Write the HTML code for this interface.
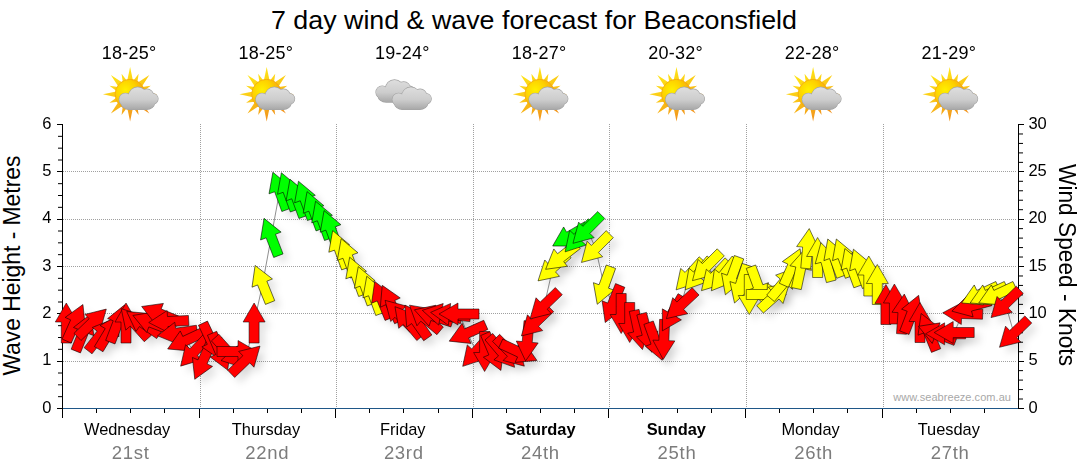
<!DOCTYPE html><html><head><meta charset="utf-8"><title>7 day wind &amp; wave forecast</title>
<style>html,body{margin:0;padding:0;background:#fff;}body{width:1080px;height:475px;overflow:hidden;font-family:"Liberation Sans",sans-serif;}svg{display:block}text{font-family:"Liberation Sans",sans-serif}</style></head><body>
<svg width="1080" height="475" viewBox="0 0 1080 475">
<defs>
<filter id="sh" x="-5%" y="-20%" width="110%" height="150%">
<feGaussianBlur stdDeviation="3.5" result="b"/>
<feOffset in="b" dx="6" dy="6"/>
</filter>
<filter id="soft" x="-10%" y="-10%" width="120%" height="120%"><feGaussianBlur stdDeviation="0.35"/></filter>
<linearGradient id="cg" gradientUnits="userSpaceOnUse" x1="0" y1="22" x2="0" y2="45"><stop offset="0" stop-color="#dedede"/><stop offset="0.55" stop-color="#cdcdcd"/><stop offset="1" stop-color="#a6a6a6"/></linearGradient>
<linearGradient id="rg" gradientUnits="userSpaceOnUse" x1="20" y1="5" x2="45" y2="55"><stop offset="0" stop-color="#ffe818"/><stop offset="0.45" stop-color="#fbc814"/><stop offset="1" stop-color="#f08c1e"/></linearGradient>
<radialGradient id="sg" gradientUnits="userSpaceOnUse" cx="30" cy="25" r="19"><stop offset="0" stop-color="#fff000"/><stop offset="0.55" stop-color="#fdd000"/><stop offset="1" stop-color="#f7a610"/></radialGradient>
<path id="ar" d="M0,-20 L11,-1 L5,-1 L5,20 L-5,20 L-5,-1 L-11,-1 Z"/>
<g id="cl"><g stroke="#a2a2a2" stroke-width="1.2" fill="#a2a2a2"><circle cx="30" cy="34.5" r="6.2"/><circle cx="42.3" cy="31.2" r="9"/><circle cx="51.5" cy="30.8" r="6.6"/><circle cx="57.3" cy="33.8" r="5.3"/><rect x="26" y="32" width="33" height="12.4" rx="8"/></g><g fill="url(#cg)"><circle cx="30" cy="34.5" r="6.2"/><circle cx="42.3" cy="31.2" r="9"/><circle cx="51.5" cy="30.8" r="6.6"/><circle cx="57.3" cy="33.8" r="5.3"/><rect x="26" y="32" width="33" height="12.4" rx="8"/></g></g>
<g id="sc" filter="url(#soft)"><path d="M37.80,16.80 L34.70,2.10 L31.60,16.80 Z M41.79,18.71 L43.23,8.70 L37.17,16.79 Z M45.73,22.65 L53.93,10.07 L41.35,18.27 Z M47.21,26.83 L55.30,20.77 L45.29,22.21 Z M47.20,32.40 L61.90,29.30 L47.20,26.20 Z M45.29,36.39 L55.30,37.83 L47.21,31.77 Z M41.35,40.33 L53.93,48.53 L45.73,35.95 Z M37.17,41.81 L43.23,49.90 L41.79,39.89 Z M31.60,41.80 L34.70,56.50 L37.80,41.80 Z M27.61,39.89 L26.17,49.90 L32.23,41.81 Z M23.67,35.95 L15.47,48.53 L28.05,40.33 Z M22.19,31.77 L14.10,37.83 L24.11,36.39 Z M22.20,26.20 L7.50,29.30 L22.20,32.40 Z M24.11,22.21 L14.10,20.77 L22.19,26.83 Z M28.05,18.27 L15.47,10.07 L23.67,22.65 Z M32.23,16.79 L26.17,8.70 L27.61,18.71 Z" fill="url(#rg)"/><circle cx="34.7" cy="29.3" r="15" fill="url(#sg)" stroke="#f2a416" stroke-width="0.7"/><use href="#cl"/></g>
<g id="cc" filter="url(#soft)"><use href="#cl" x="-16.4" y="-7.3"/><use href="#cl"/></g>
</defs>

<rect width="1080" height="475" fill="#fff"/>
<g stroke="#a0a0a0" stroke-width="1" stroke-dasharray="1 1" shape-rendering="crispEdges"><line x1="200.5" y1="124" x2="200.5" y2="408"/><line x1="336.5" y1="124" x2="336.5" y2="408"/><line x1="473.5" y1="124" x2="473.5" y2="408"/><line x1="609.5" y1="124" x2="609.5" y2="408"/><line x1="746.5" y1="124" x2="746.5" y2="408"/><line x1="883.5" y1="124" x2="883.5" y2="408"/><line x1="63" y1="361.5" x2="1017" y2="361.5"/><line x1="63" y1="313.5" x2="1017" y2="313.5"/><line x1="63" y1="266.5" x2="1017" y2="266.5"/><line x1="63" y1="219.5" x2="1017" y2="219.5"/><line x1="63" y1="171.5" x2="1017" y2="171.5"/></g>
<text x="1011" y="401" font-size="11" fill="#a8a8a8" text-anchor="end" letter-spacing="0.05">www.seabreeze.com.au</text>
<polyline points="66.3,323.0 74.8,322.8 83.3,332.5 91.9,323.0 100.4,335.0 109.0,332.0 117.5,323.5 126.0,323.0 134.6,323.5 143.1,323.0 151.6,322.6 160.2,314.0 168.7,321.5 177.3,333.0 185.8,340.5 194.3,351.5 202.9,361.0 211.4,341.3 219.9,351.7 228.5,352.4 237.0,351.5 245.6,360.0 254.1,323.0 262.6,284.0 271.2,237.0 279.7,191.0 288.2,191.5 296.8,198.0 305.3,200.0 313.9,210.4 322.4,220.0 330.9,229.4 339.5,249.4 348.0,257.5 356.5,276.0 365.1,285.4 373.6,295.0 382.2,300.0 390.7,303.5 399.2,314.5 407.8,322.0 416.3,321.5 424.8,318.0 433.4,316.0 441.9,314.5 450.5,314.5 459.0,314.0 467.5,333.0 476.1,351.5 484.6,351.5 493.1,352.0 501.7,352.0 510.2,352.0 518.8,352.0 527.3,341.0 535.8,322.0 544.4,305.0 552.9,267.5 561.4,257.0 570.0,236.0 578.5,237.0 587.1,229.2 595.6,248.3 604.1,285.5 612.7,304.0 621.2,313.5 629.7,322.5 638.3,330.0 646.8,333.0 655.4,341.5 663.9,339.5 672.4,313.5 681.0,305.0 689.5,275.0 698.0,274.5 706.6,266.5 715.1,276.0 723.7,275.0 732.2,276.0 740.7,284.0 749.3,294.5 757.8,285.5 766.3,294.5 774.9,296.0 783.4,283.0 792.0,267.0 800.5,269.0 807.5,248.5 817.6,257.5 826.1,262.0 834.6,257.8 843.2,257.8 851.7,267.3 860.3,268.0 868.8,276.0 877.3,284.5 885.9,304.5 894.4,304.0 902.9,314.0 911.5,314.0 920.0,322.5 928.6,332.0 937.1,333.5 945.6,333.8 954.2,332.5 962.7,313.5 971.2,306.0 979.8,294.5 988.3,294.5 996.9,294.5 1005.4,303.7 1013.9,333.4" fill="none" stroke="#909090" stroke-width="1"/>
<g><rect x="62" y="124" width="1" height="294" fill="#000"/><rect x="1018" y="124" width="1" height="285" fill="#000"/><rect x="63" y="408" width="955" height="1" fill="#1f5788"/><rect x="57" y="408" width="5" height="1" fill="#000"/><line x1="58" y1="396.67" x2="62" y2="396.67" stroke="#000" stroke-width="1"/><line x1="58" y1="384.83" x2="62" y2="384.83" stroke="#000" stroke-width="1"/><line x1="58" y1="373.00" x2="62" y2="373.00" stroke="#000" stroke-width="1"/><rect x="57" y="361" width="5" height="1" fill="#000"/><line x1="58" y1="349.33" x2="62" y2="349.33" stroke="#000" stroke-width="1"/><line x1="58" y1="337.50" x2="62" y2="337.50" stroke="#000" stroke-width="1"/><line x1="58" y1="325.67" x2="62" y2="325.67" stroke="#000" stroke-width="1"/><rect x="57" y="313" width="5" height="1" fill="#000"/><line x1="58" y1="302.00" x2="62" y2="302.00" stroke="#000" stroke-width="1"/><line x1="58" y1="290.17" x2="62" y2="290.17" stroke="#000" stroke-width="1"/><line x1="58" y1="278.33" x2="62" y2="278.33" stroke="#000" stroke-width="1"/><rect x="57" y="266" width="5" height="1" fill="#000"/><line x1="58" y1="254.67" x2="62" y2="254.67" stroke="#000" stroke-width="1"/><line x1="58" y1="242.83" x2="62" y2="242.83" stroke="#000" stroke-width="1"/><line x1="58" y1="231.00" x2="62" y2="231.00" stroke="#000" stroke-width="1"/><rect x="57" y="219" width="5" height="1" fill="#000"/><line x1="58" y1="207.33" x2="62" y2="207.33" stroke="#000" stroke-width="1"/><line x1="58" y1="195.50" x2="62" y2="195.50" stroke="#000" stroke-width="1"/><line x1="58" y1="183.67" x2="62" y2="183.67" stroke="#000" stroke-width="1"/><rect x="57" y="171" width="5" height="1" fill="#000"/><line x1="58" y1="160.00" x2="62" y2="160.00" stroke="#000" stroke-width="1"/><line x1="58" y1="148.17" x2="62" y2="148.17" stroke="#000" stroke-width="1"/><line x1="58" y1="136.33" x2="62" y2="136.33" stroke="#000" stroke-width="1"/><rect x="57" y="124" width="5" height="1" fill="#000"/><rect x="1019" y="408" width="5" height="1" fill="#000"/><line x1="1019" y1="399.03" x2="1023" y2="399.03" stroke="#000" stroke-width="1"/><line x1="1019" y1="389.57" x2="1023" y2="389.57" stroke="#000" stroke-width="1"/><line x1="1019" y1="380.10" x2="1023" y2="380.10" stroke="#000" stroke-width="1"/><line x1="1019" y1="370.63" x2="1023" y2="370.63" stroke="#000" stroke-width="1"/><rect x="1019" y="361" width="5" height="1" fill="#000"/><line x1="1019" y1="351.70" x2="1023" y2="351.70" stroke="#000" stroke-width="1"/><line x1="1019" y1="342.23" x2="1023" y2="342.23" stroke="#000" stroke-width="1"/><line x1="1019" y1="332.77" x2="1023" y2="332.77" stroke="#000" stroke-width="1"/><line x1="1019" y1="323.30" x2="1023" y2="323.30" stroke="#000" stroke-width="1"/><rect x="1019" y="313" width="5" height="1" fill="#000"/><line x1="1019" y1="304.37" x2="1023" y2="304.37" stroke="#000" stroke-width="1"/><line x1="1019" y1="294.90" x2="1023" y2="294.90" stroke="#000" stroke-width="1"/><line x1="1019" y1="285.43" x2="1023" y2="285.43" stroke="#000" stroke-width="1"/><line x1="1019" y1="275.97" x2="1023" y2="275.97" stroke="#000" stroke-width="1"/><rect x="1019" y="266" width="5" height="1" fill="#000"/><line x1="1019" y1="257.03" x2="1023" y2="257.03" stroke="#000" stroke-width="1"/><line x1="1019" y1="247.57" x2="1023" y2="247.57" stroke="#000" stroke-width="1"/><line x1="1019" y1="238.10" x2="1023" y2="238.10" stroke="#000" stroke-width="1"/><line x1="1019" y1="228.63" x2="1023" y2="228.63" stroke="#000" stroke-width="1"/><rect x="1019" y="219" width="5" height="1" fill="#000"/><line x1="1019" y1="209.70" x2="1023" y2="209.70" stroke="#000" stroke-width="1"/><line x1="1019" y1="200.23" x2="1023" y2="200.23" stroke="#000" stroke-width="1"/><line x1="1019" y1="190.77" x2="1023" y2="190.77" stroke="#000" stroke-width="1"/><line x1="1019" y1="181.30" x2="1023" y2="181.30" stroke="#000" stroke-width="1"/><rect x="1019" y="171" width="5" height="1" fill="#000"/><line x1="1019" y1="162.37" x2="1023" y2="162.37" stroke="#000" stroke-width="1"/><line x1="1019" y1="152.90" x2="1023" y2="152.90" stroke="#000" stroke-width="1"/><line x1="1019" y1="143.43" x2="1023" y2="143.43" stroke="#000" stroke-width="1"/><line x1="1019" y1="133.97" x2="1023" y2="133.97" stroke="#000" stroke-width="1"/><rect x="1019" y="124" width="5" height="1" fill="#000"/><rect x="96" y="409" width="1" height="4" fill="#000"/><rect x="130" y="409" width="1" height="4" fill="#000"/><rect x="164" y="409" width="1" height="4" fill="#000"/><rect x="199" y="409" width="1" height="9" fill="#000"/><rect x="233" y="409" width="1" height="4" fill="#000"/><rect x="267" y="409" width="1" height="4" fill="#000"/><rect x="301" y="409" width="1" height="4" fill="#000"/><rect x="335" y="409" width="1" height="9" fill="#000"/><rect x="369" y="409" width="1" height="4" fill="#000"/><rect x="403" y="409" width="1" height="4" fill="#000"/><rect x="438" y="409" width="1" height="4" fill="#000"/><rect x="472" y="409" width="1" height="9" fill="#000"/><rect x="506" y="409" width="1" height="4" fill="#000"/><rect x="540" y="409" width="1" height="4" fill="#000"/><rect x="574" y="409" width="1" height="4" fill="#000"/><rect x="608" y="409" width="1" height="9" fill="#000"/><rect x="642" y="409" width="1" height="4" fill="#000"/><rect x="677" y="409" width="1" height="4" fill="#000"/><rect x="711" y="409" width="1" height="4" fill="#000"/><rect x="745" y="409" width="1" height="9" fill="#000"/><rect x="779" y="409" width="1" height="4" fill="#000"/><rect x="813" y="409" width="1" height="4" fill="#000"/><rect x="847" y="409" width="1" height="4" fill="#000"/><rect x="882" y="409" width="1" height="9" fill="#000"/><rect x="916" y="409" width="1" height="4" fill="#000"/><rect x="950" y="409" width="1" height="4" fill="#000"/><rect x="984" y="409" width="1" height="4" fill="#000"/></g>
<g filter="url(#sh)" fill="#000" fill-opacity="0.1"><use href="#ar" transform="translate(66.3 323.0) rotate(0)"/><use href="#ar" transform="translate(74.8 322.8) rotate(24)"/><use href="#ar" transform="translate(83.3 332.5) rotate(22)"/><use href="#ar" transform="translate(91.9 323.0) rotate(46)"/><use href="#ar" transform="translate(100.4 335.0) rotate(38)"/><use href="#ar" transform="translate(109.0 332.0) rotate(31)"/><use href="#ar" transform="translate(117.5 323.5) rotate(21)"/><use href="#ar" transform="translate(126.0 323.0) rotate(0)"/><use href="#ar" transform="translate(134.6 323.5) rotate(-42)"/><use href="#ar" transform="translate(143.1 323.0) rotate(-55)"/><use href="#ar" transform="translate(151.6 322.6) rotate(-69)"/><use href="#ar" transform="translate(160.2 314.0) rotate(-68)"/><use href="#ar" transform="translate(168.7 321.5) rotate(267)"/><use href="#ar" transform="translate(177.3 333.0) rotate(262)"/><use href="#ar" transform="translate(185.8 340.5) rotate(245)"/><use href="#ar" transform="translate(194.3 351.5) rotate(223)"/><use href="#ar" transform="translate(202.9 361.0) rotate(204)"/><use href="#ar" transform="translate(211.4 341.3) rotate(155)"/><use href="#ar" transform="translate(219.9 351.7) rotate(157)"/><use href="#ar" transform="translate(228.5 352.4) rotate(138)"/><use href="#ar" transform="translate(237.0 351.5) rotate(90)"/><use href="#ar" transform="translate(245.6 360.0) rotate(46)"/><use href="#ar" transform="translate(254.1 323.0) rotate(0)"/><use href="#ar" transform="translate(262.6 284.0) rotate(-22)"/><use href="#ar" transform="translate(271.2 237.0) rotate(-21)"/><use href="#ar" transform="translate(279.7 191.0) rotate(-20)"/><use href="#ar" transform="translate(288.2 191.5) rotate(-20)"/><use href="#ar" transform="translate(296.8 198.0) rotate(-20)"/><use href="#ar" transform="translate(305.3 200.0) rotate(-20)"/><use href="#ar" transform="translate(313.9 210.4) rotate(-20)"/><use href="#ar" transform="translate(322.4 220.0) rotate(-20)"/><use href="#ar" transform="translate(330.9 229.4) rotate(-20)"/><use href="#ar" transform="translate(339.5 249.4) rotate(-20)"/><use href="#ar" transform="translate(348.0 257.5) rotate(-20)"/><use href="#ar" transform="translate(356.5 276.0) rotate(-20)"/><use href="#ar" transform="translate(365.1 285.4) rotate(-20)"/><use href="#ar" transform="translate(373.6 295.0) rotate(-20)"/><use href="#ar" transform="translate(382.2 300.0) rotate(-22)"/><use href="#ar" transform="translate(390.7 303.5) rotate(-25)"/><use href="#ar" transform="translate(399.2 314.5) rotate(-45)"/><use href="#ar" transform="translate(407.8 322.0) rotate(-40)"/><use href="#ar" transform="translate(416.3 321.5) rotate(-35)"/><use href="#ar" transform="translate(424.8 318.0) rotate(-50)"/><use href="#ar" transform="translate(433.4 316.0) rotate(-72)"/><use href="#ar" transform="translate(441.9 314.5) rotate(-78)"/><use href="#ar" transform="translate(450.5 314.5) rotate(-84)"/><use href="#ar" transform="translate(459.0 314.0) rotate(-90)"/><use href="#ar" transform="translate(467.5 333.0) rotate(246)"/><use href="#ar" transform="translate(476.1 351.5) rotate(222)"/><use href="#ar" transform="translate(484.6 351.5) rotate(180)"/><use href="#ar" transform="translate(493.1 352.0) rotate(157)"/><use href="#ar" transform="translate(501.7 352.0) rotate(140)"/><use href="#ar" transform="translate(510.2 352.0) rotate(135)"/><use href="#ar" transform="translate(518.8 352.0) rotate(115)"/><use href="#ar" transform="translate(527.3 341.0) rotate(185)"/><use href="#ar" transform="translate(535.8 322.0) rotate(226)"/><use href="#ar" transform="translate(544.4 305.0) rotate(226)"/><use href="#ar" transform="translate(552.9 267.5) rotate(228)"/><use href="#ar" transform="translate(561.4 257.0) rotate(232)"/><use href="#ar" transform="translate(570.0 236.0) rotate(240)"/><use href="#ar" transform="translate(578.5 237.0) rotate(222)"/><use href="#ar" transform="translate(587.1 229.2) rotate(225)"/><use href="#ar" transform="translate(595.6 248.3) rotate(225)"/><use href="#ar" transform="translate(604.1 285.5) rotate(200)"/><use href="#ar" transform="translate(612.7 304.0) rotate(202)"/><use href="#ar" transform="translate(621.2 313.5) rotate(180)"/><use href="#ar" transform="translate(629.7 322.5) rotate(180)"/><use href="#ar" transform="translate(638.3 330.0) rotate(168)"/><use href="#ar" transform="translate(646.8 333.0) rotate(165)"/><use href="#ar" transform="translate(655.4 341.5) rotate(160)"/><use href="#ar" transform="translate(663.9 339.5) rotate(182)"/><use href="#ar" transform="translate(672.4 313.5) rotate(210)"/><use href="#ar" transform="translate(681.0 305.0) rotate(227)"/><use href="#ar" transform="translate(689.5 275.0) rotate(222)"/><use href="#ar" transform="translate(698.0 274.5) rotate(220)"/><use href="#ar" transform="translate(706.6 266.5) rotate(225)"/><use href="#ar" transform="translate(715.1 276.0) rotate(223)"/><use href="#ar" transform="translate(723.7 275.0) rotate(218)"/><use href="#ar" transform="translate(732.2 276.0) rotate(200)"/><use href="#ar" transform="translate(740.7 284.0) rotate(198)"/><use href="#ar" transform="translate(749.3 294.5) rotate(180)"/><use href="#ar" transform="translate(757.8 285.5) rotate(160)"/><use href="#ar" transform="translate(766.3 294.5) rotate(90)"/><use href="#ar" transform="translate(774.9 296.0) rotate(48)"/><use href="#ar" transform="translate(783.4 283.0) rotate(40)"/><use href="#ar" transform="translate(792.0 267.0) rotate(24)"/><use href="#ar" transform="translate(800.5 269.0) rotate(12)"/><use href="#ar" transform="translate(807.5 248.5) rotate(5)"/><use href="#ar" transform="translate(817.6 257.5) rotate(0)"/><use href="#ar" transform="translate(826.1 262.0) rotate(-15)"/><use href="#ar" transform="translate(834.6 257.8) rotate(-20)"/><use href="#ar" transform="translate(843.2 257.8) rotate(-20)"/><use href="#ar" transform="translate(851.7 267.3) rotate(-20)"/><use href="#ar" transform="translate(860.3 268.0) rotate(-20)"/><use href="#ar" transform="translate(868.8 276.0) rotate(0)"/><use href="#ar" transform="translate(877.3 284.5) rotate(0)"/><use href="#ar" transform="translate(885.9 304.5) rotate(0)"/><use href="#ar" transform="translate(894.4 304.0) rotate(0)"/><use href="#ar" transform="translate(902.9 314.0) rotate(4)"/><use href="#ar" transform="translate(911.5 314.0) rotate(21)"/><use href="#ar" transform="translate(920.0 322.5) rotate(0)"/><use href="#ar" transform="translate(928.6 332.0) rotate(-22)"/><use href="#ar" transform="translate(937.1 333.5) rotate(-69)"/><use href="#ar" transform="translate(945.6 333.8) rotate(-90)"/><use href="#ar" transform="translate(954.2 332.5) rotate(-90)"/><use href="#ar" transform="translate(962.7 313.5) rotate(-88)"/><use href="#ar" transform="translate(971.2 306.0) rotate(255)"/><use href="#ar" transform="translate(979.8 294.5) rotate(245)"/><use href="#ar" transform="translate(988.3 294.5) rotate(245)"/><use href="#ar" transform="translate(996.9 294.5) rotate(245)"/><use href="#ar" transform="translate(1005.4 303.7) rotate(226)"/><use href="#ar" transform="translate(1013.9 333.4) rotate(226)"/></g><g stroke="#000" stroke-opacity="0.75" stroke-width="0.7" stroke-linejoin="miter"><use href="#ar" transform="translate(66.3 323.0) rotate(0)" fill="#ff0000"/><use href="#ar" transform="translate(74.8 322.8) rotate(24)" fill="#ff0000"/><use href="#ar" transform="translate(83.3 332.5) rotate(22)" fill="#ff0000"/><use href="#ar" transform="translate(91.9 323.0) rotate(46)" fill="#ff0000"/><use href="#ar" transform="translate(100.4 335.0) rotate(38)" fill="#ff0000"/><use href="#ar" transform="translate(109.0 332.0) rotate(31)" fill="#ff0000"/><use href="#ar" transform="translate(117.5 323.5) rotate(21)" fill="#ff0000"/><use href="#ar" transform="translate(126.0 323.0) rotate(0)" fill="#ff0000"/><use href="#ar" transform="translate(134.6 323.5) rotate(-42)" fill="#ff0000"/><use href="#ar" transform="translate(143.1 323.0) rotate(-55)" fill="#ff0000"/><use href="#ar" transform="translate(151.6 322.6) rotate(-69)" fill="#ff0000"/><use href="#ar" transform="translate(160.2 314.0) rotate(-68)" fill="#ff0000"/><use href="#ar" transform="translate(168.7 321.5) rotate(267)" fill="#ff0000"/><use href="#ar" transform="translate(177.3 333.0) rotate(262)" fill="#ff0000"/><use href="#ar" transform="translate(185.8 340.5) rotate(245)" fill="#ff0000"/><use href="#ar" transform="translate(194.3 351.5) rotate(223)" fill="#ff0000"/><use href="#ar" transform="translate(202.9 361.0) rotate(204)" fill="#ff0000"/><use href="#ar" transform="translate(211.4 341.3) rotate(155)" fill="#ff0000"/><use href="#ar" transform="translate(219.9 351.7) rotate(157)" fill="#ff0000"/><use href="#ar" transform="translate(228.5 352.4) rotate(138)" fill="#ff0000"/><use href="#ar" transform="translate(237.0 351.5) rotate(90)" fill="#ff0000"/><use href="#ar" transform="translate(245.6 360.0) rotate(46)" fill="#ff0000"/><use href="#ar" transform="translate(254.1 323.0) rotate(0)" fill="#ff0000"/><use href="#ar" transform="translate(262.6 284.0) rotate(-22)" fill="#ffff00"/><use href="#ar" transform="translate(271.2 237.0) rotate(-21)" fill="#00ff00"/><use href="#ar" transform="translate(279.7 191.0) rotate(-20)" fill="#00ff00"/><use href="#ar" transform="translate(288.2 191.5) rotate(-20)" fill="#00ff00"/><use href="#ar" transform="translate(296.8 198.0) rotate(-20)" fill="#00ff00"/><use href="#ar" transform="translate(305.3 200.0) rotate(-20)" fill="#00ff00"/><use href="#ar" transform="translate(313.9 210.4) rotate(-20)" fill="#00ff00"/><use href="#ar" transform="translate(322.4 220.0) rotate(-20)" fill="#00ff00"/><use href="#ar" transform="translate(330.9 229.4) rotate(-20)" fill="#00ff00"/><use href="#ar" transform="translate(339.5 249.4) rotate(-20)" fill="#ffff00"/><use href="#ar" transform="translate(348.0 257.5) rotate(-20)" fill="#ffff00"/><use href="#ar" transform="translate(356.5 276.0) rotate(-20)" fill="#ffff00"/><use href="#ar" transform="translate(365.1 285.4) rotate(-20)" fill="#ffff00"/><use href="#ar" transform="translate(373.6 295.0) rotate(-20)" fill="#ffff00"/><use href="#ar" transform="translate(382.2 300.0) rotate(-22)" fill="#ff0000"/><use href="#ar" transform="translate(390.7 303.5) rotate(-25)" fill="#ff0000"/><use href="#ar" transform="translate(399.2 314.5) rotate(-45)" fill="#ff0000"/><use href="#ar" transform="translate(407.8 322.0) rotate(-40)" fill="#ff0000"/><use href="#ar" transform="translate(416.3 321.5) rotate(-35)" fill="#ff0000"/><use href="#ar" transform="translate(424.8 318.0) rotate(-50)" fill="#ff0000"/><use href="#ar" transform="translate(433.4 316.0) rotate(-72)" fill="#ff0000"/><use href="#ar" transform="translate(441.9 314.5) rotate(-78)" fill="#ff0000"/><use href="#ar" transform="translate(450.5 314.5) rotate(-84)" fill="#ff0000"/><use href="#ar" transform="translate(459.0 314.0) rotate(-90)" fill="#ff0000"/><use href="#ar" transform="translate(467.5 333.0) rotate(246)" fill="#ff0000"/><use href="#ar" transform="translate(476.1 351.5) rotate(222)" fill="#ff0000"/><use href="#ar" transform="translate(484.6 351.5) rotate(180)" fill="#ff0000"/><use href="#ar" transform="translate(493.1 352.0) rotate(157)" fill="#ff0000"/><use href="#ar" transform="translate(501.7 352.0) rotate(140)" fill="#ff0000"/><use href="#ar" transform="translate(510.2 352.0) rotate(135)" fill="#ff0000"/><use href="#ar" transform="translate(518.8 352.0) rotate(115)" fill="#ff0000"/><use href="#ar" transform="translate(527.3 341.0) rotate(185)" fill="#ff0000"/><use href="#ar" transform="translate(535.8 322.0) rotate(226)" fill="#ff0000"/><use href="#ar" transform="translate(544.4 305.0) rotate(226)" fill="#ff0000"/><use href="#ar" transform="translate(552.9 267.5) rotate(228)" fill="#ffff00"/><use href="#ar" transform="translate(561.4 257.0) rotate(232)" fill="#ffff00"/><use href="#ar" transform="translate(570.0 236.0) rotate(240)" fill="#00ff00"/><use href="#ar" transform="translate(578.5 237.0) rotate(222)" fill="#00ff00"/><use href="#ar" transform="translate(587.1 229.2) rotate(225)" fill="#00ff00"/><use href="#ar" transform="translate(595.6 248.3) rotate(225)" fill="#ffff00"/><use href="#ar" transform="translate(604.1 285.5) rotate(200)" fill="#ffff00"/><use href="#ar" transform="translate(612.7 304.0) rotate(202)" fill="#ff0000"/><use href="#ar" transform="translate(621.2 313.5) rotate(180)" fill="#ff0000"/><use href="#ar" transform="translate(629.7 322.5) rotate(180)" fill="#ff0000"/><use href="#ar" transform="translate(638.3 330.0) rotate(168)" fill="#ff0000"/><use href="#ar" transform="translate(646.8 333.0) rotate(165)" fill="#ff0000"/><use href="#ar" transform="translate(655.4 341.5) rotate(160)" fill="#ff0000"/><use href="#ar" transform="translate(663.9 339.5) rotate(182)" fill="#ff0000"/><use href="#ar" transform="translate(672.4 313.5) rotate(210)" fill="#ff0000"/><use href="#ar" transform="translate(681.0 305.0) rotate(227)" fill="#ff0000"/><use href="#ar" transform="translate(689.5 275.0) rotate(222)" fill="#ffff00"/><use href="#ar" transform="translate(698.0 274.5) rotate(220)" fill="#ffff00"/><use href="#ar" transform="translate(706.6 266.5) rotate(225)" fill="#ffff00"/><use href="#ar" transform="translate(715.1 276.0) rotate(223)" fill="#ffff00"/><use href="#ar" transform="translate(723.7 275.0) rotate(218)" fill="#ffff00"/><use href="#ar" transform="translate(732.2 276.0) rotate(200)" fill="#ffff00"/><use href="#ar" transform="translate(740.7 284.0) rotate(198)" fill="#ffff00"/><use href="#ar" transform="translate(749.3 294.5) rotate(180)" fill="#ffff00"/><use href="#ar" transform="translate(757.8 285.5) rotate(160)" fill="#ffff00"/><use href="#ar" transform="translate(766.3 294.5) rotate(90)" fill="#ffff00"/><use href="#ar" transform="translate(774.9 296.0) rotate(48)" fill="#ffff00"/><use href="#ar" transform="translate(783.4 283.0) rotate(40)" fill="#ffff00"/><use href="#ar" transform="translate(792.0 267.0) rotate(24)" fill="#ffff00"/><use href="#ar" transform="translate(800.5 269.0) rotate(12)" fill="#ffff00"/><use href="#ar" transform="translate(807.5 248.5) rotate(5)" fill="#ffff00"/><use href="#ar" transform="translate(817.6 257.5) rotate(0)" fill="#ffff00"/><use href="#ar" transform="translate(826.1 262.0) rotate(-15)" fill="#ffff00"/><use href="#ar" transform="translate(834.6 257.8) rotate(-20)" fill="#ffff00"/><use href="#ar" transform="translate(843.2 257.8) rotate(-20)" fill="#ffff00"/><use href="#ar" transform="translate(851.7 267.3) rotate(-20)" fill="#ffff00"/><use href="#ar" transform="translate(860.3 268.0) rotate(-20)" fill="#ffff00"/><use href="#ar" transform="translate(868.8 276.0) rotate(0)" fill="#ffff00"/><use href="#ar" transform="translate(877.3 284.5) rotate(0)" fill="#ffff00"/><use href="#ar" transform="translate(885.9 304.5) rotate(0)" fill="#ff0000"/><use href="#ar" transform="translate(894.4 304.0) rotate(0)" fill="#ff0000"/><use href="#ar" transform="translate(902.9 314.0) rotate(4)" fill="#ff0000"/><use href="#ar" transform="translate(911.5 314.0) rotate(21)" fill="#ff0000"/><use href="#ar" transform="translate(920.0 322.5) rotate(0)" fill="#ff0000"/><use href="#ar" transform="translate(928.6 332.0) rotate(-22)" fill="#ff0000"/><use href="#ar" transform="translate(937.1 333.5) rotate(-69)" fill="#ff0000"/><use href="#ar" transform="translate(945.6 333.8) rotate(-90)" fill="#ff0000"/><use href="#ar" transform="translate(954.2 332.5) rotate(-90)" fill="#ff0000"/><use href="#ar" transform="translate(962.7 313.5) rotate(-88)" fill="#ff0000"/><use href="#ar" transform="translate(971.2 306.0) rotate(255)" fill="#ff0000"/><use href="#ar" transform="translate(979.8 294.5) rotate(245)" fill="#ffff00"/><use href="#ar" transform="translate(988.3 294.5) rotate(245)" fill="#ffff00"/><use href="#ar" transform="translate(996.9 294.5) rotate(245)" fill="#ffff00"/><use href="#ar" transform="translate(1005.4 303.7) rotate(226)" fill="#ff0000"/><use href="#ar" transform="translate(1013.9 333.4) rotate(226)" fill="#ff0000"/></g>
<g><text x="51.5" y="412.5" font-size="16.5" text-anchor="end" fill="#000">0</text><text x="1028.5" y="412.5" font-size="16.5" letter-spacing="-0.3" text-anchor="start" fill="#000">0</text><text x="51.5" y="365.2" font-size="16.5" text-anchor="end" fill="#000">1</text><text x="1028.5" y="365.2" font-size="16.5" letter-spacing="-0.3" text-anchor="start" fill="#000">5</text><text x="51.5" y="317.8" font-size="16.5" text-anchor="end" fill="#000">2</text><text x="1028.5" y="317.8" font-size="16.5" letter-spacing="-0.3" text-anchor="start" fill="#000">10</text><text x="51.5" y="270.5" font-size="16.5" text-anchor="end" fill="#000">3</text><text x="1028.5" y="270.5" font-size="16.5" letter-spacing="-0.3" text-anchor="start" fill="#000">15</text><text x="51.5" y="223.2" font-size="16.5" text-anchor="end" fill="#000">4</text><text x="1028.5" y="223.2" font-size="16.5" letter-spacing="-0.3" text-anchor="start" fill="#000">20</text><text x="51.5" y="175.8" font-size="16.5" text-anchor="end" fill="#000">5</text><text x="1028.5" y="175.8" font-size="16.5" letter-spacing="-0.3" text-anchor="start" fill="#000">25</text><text x="51.5" y="128.5" font-size="16.5" text-anchor="end" fill="#000">6</text><text x="1028.5" y="128.5" font-size="16.5" letter-spacing="-0.3" text-anchor="start" fill="#000">30</text><text x="127.1" y="435.2" font-size="16.4" text-anchor="middle" fill="#000">Wednesday</text><text x="130.6" y="458.8" font-size="18.5" letter-spacing="0.7" text-anchor="middle" fill="#7c7c7c">21st</text><text x="129.2" y="58.5" font-size="18" letter-spacing="0.25" text-anchor="middle" fill="#000">18-25°</text><use href="#sc" x="95.4" y="65"/><text x="266.0" y="435.2" font-size="16.4" text-anchor="middle" fill="#000">Thursday</text><text x="267.2" y="458.8" font-size="18.5" letter-spacing="0.7" text-anchor="middle" fill="#7c7c7c">22nd</text><text x="265.8" y="58.5" font-size="18" letter-spacing="0.25" text-anchor="middle" fill="#000">18-25°</text><use href="#sc" x="232.0" y="65"/><text x="402.8" y="435.2" font-size="16.4" text-anchor="middle" fill="#000">Friday</text><text x="403.8" y="458.8" font-size="18.5" letter-spacing="0.7" text-anchor="middle" fill="#7c7c7c">23rd</text><text x="402.4" y="58.5" font-size="18" letter-spacing="0.25" text-anchor="middle" fill="#000">19-24°</text><use href="#cc" x="368.6" y="65"/><text x="540.5" y="435.2" font-size="16.4" text-anchor="middle" fill="#000" font-weight="bold">Saturday</text><text x="540.4" y="458.8" font-size="18.5" letter-spacing="0.7" text-anchor="middle" fill="#7c7c7c">24th</text><text x="539.0" y="58.5" font-size="18" letter-spacing="0.25" text-anchor="middle" fill="#000">18-27°</text><use href="#sc" x="505.2" y="65"/><text x="676.3" y="435.2" font-size="16.4" text-anchor="middle" fill="#000" font-weight="bold">Sunday</text><text x="677.0" y="458.8" font-size="18.5" letter-spacing="0.7" text-anchor="middle" fill="#7c7c7c">25th</text><text x="675.6" y="58.5" font-size="18" letter-spacing="0.25" text-anchor="middle" fill="#000">20-32°</text><use href="#sc" x="641.8" y="65"/><text x="810.6" y="435.2" font-size="16.4" text-anchor="middle" fill="#000">Monday</text><text x="813.6" y="458.8" font-size="18.5" letter-spacing="0.7" text-anchor="middle" fill="#7c7c7c">26th</text><text x="812.2" y="58.5" font-size="18" letter-spacing="0.25" text-anchor="middle" fill="#000">22-28°</text><use href="#sc" x="778.4" y="65"/><text x="948.8" y="435.2" font-size="16.4" text-anchor="middle" fill="#000">Tuesday</text><text x="950.2" y="458.8" font-size="18.5" letter-spacing="0.7" text-anchor="middle" fill="#7c7c7c">27th</text><text x="948.8" y="58.5" font-size="18" letter-spacing="0.25" text-anchor="middle" fill="#000">21-29°</text><use href="#sc" x="915.0" y="65"/><text x="534" y="29" font-size="26" text-anchor="middle" fill="#000" textLength="526" lengthAdjust="spacingAndGlyphs">7 day wind &amp; wave forecast for Beaconsfield</text><text transform="translate(19.5 265.6) rotate(-90)" font-size="23.5" text-anchor="middle" fill="#000" textLength="220" lengthAdjust="spacingAndGlyphs">Wave Height - Metres</text><text transform="translate(1059 265) rotate(90)" font-size="23" text-anchor="middle" fill="#000" textLength="202" lengthAdjust="spacingAndGlyphs">Wind Speed - Knots</text></g>
</svg></body></html>
